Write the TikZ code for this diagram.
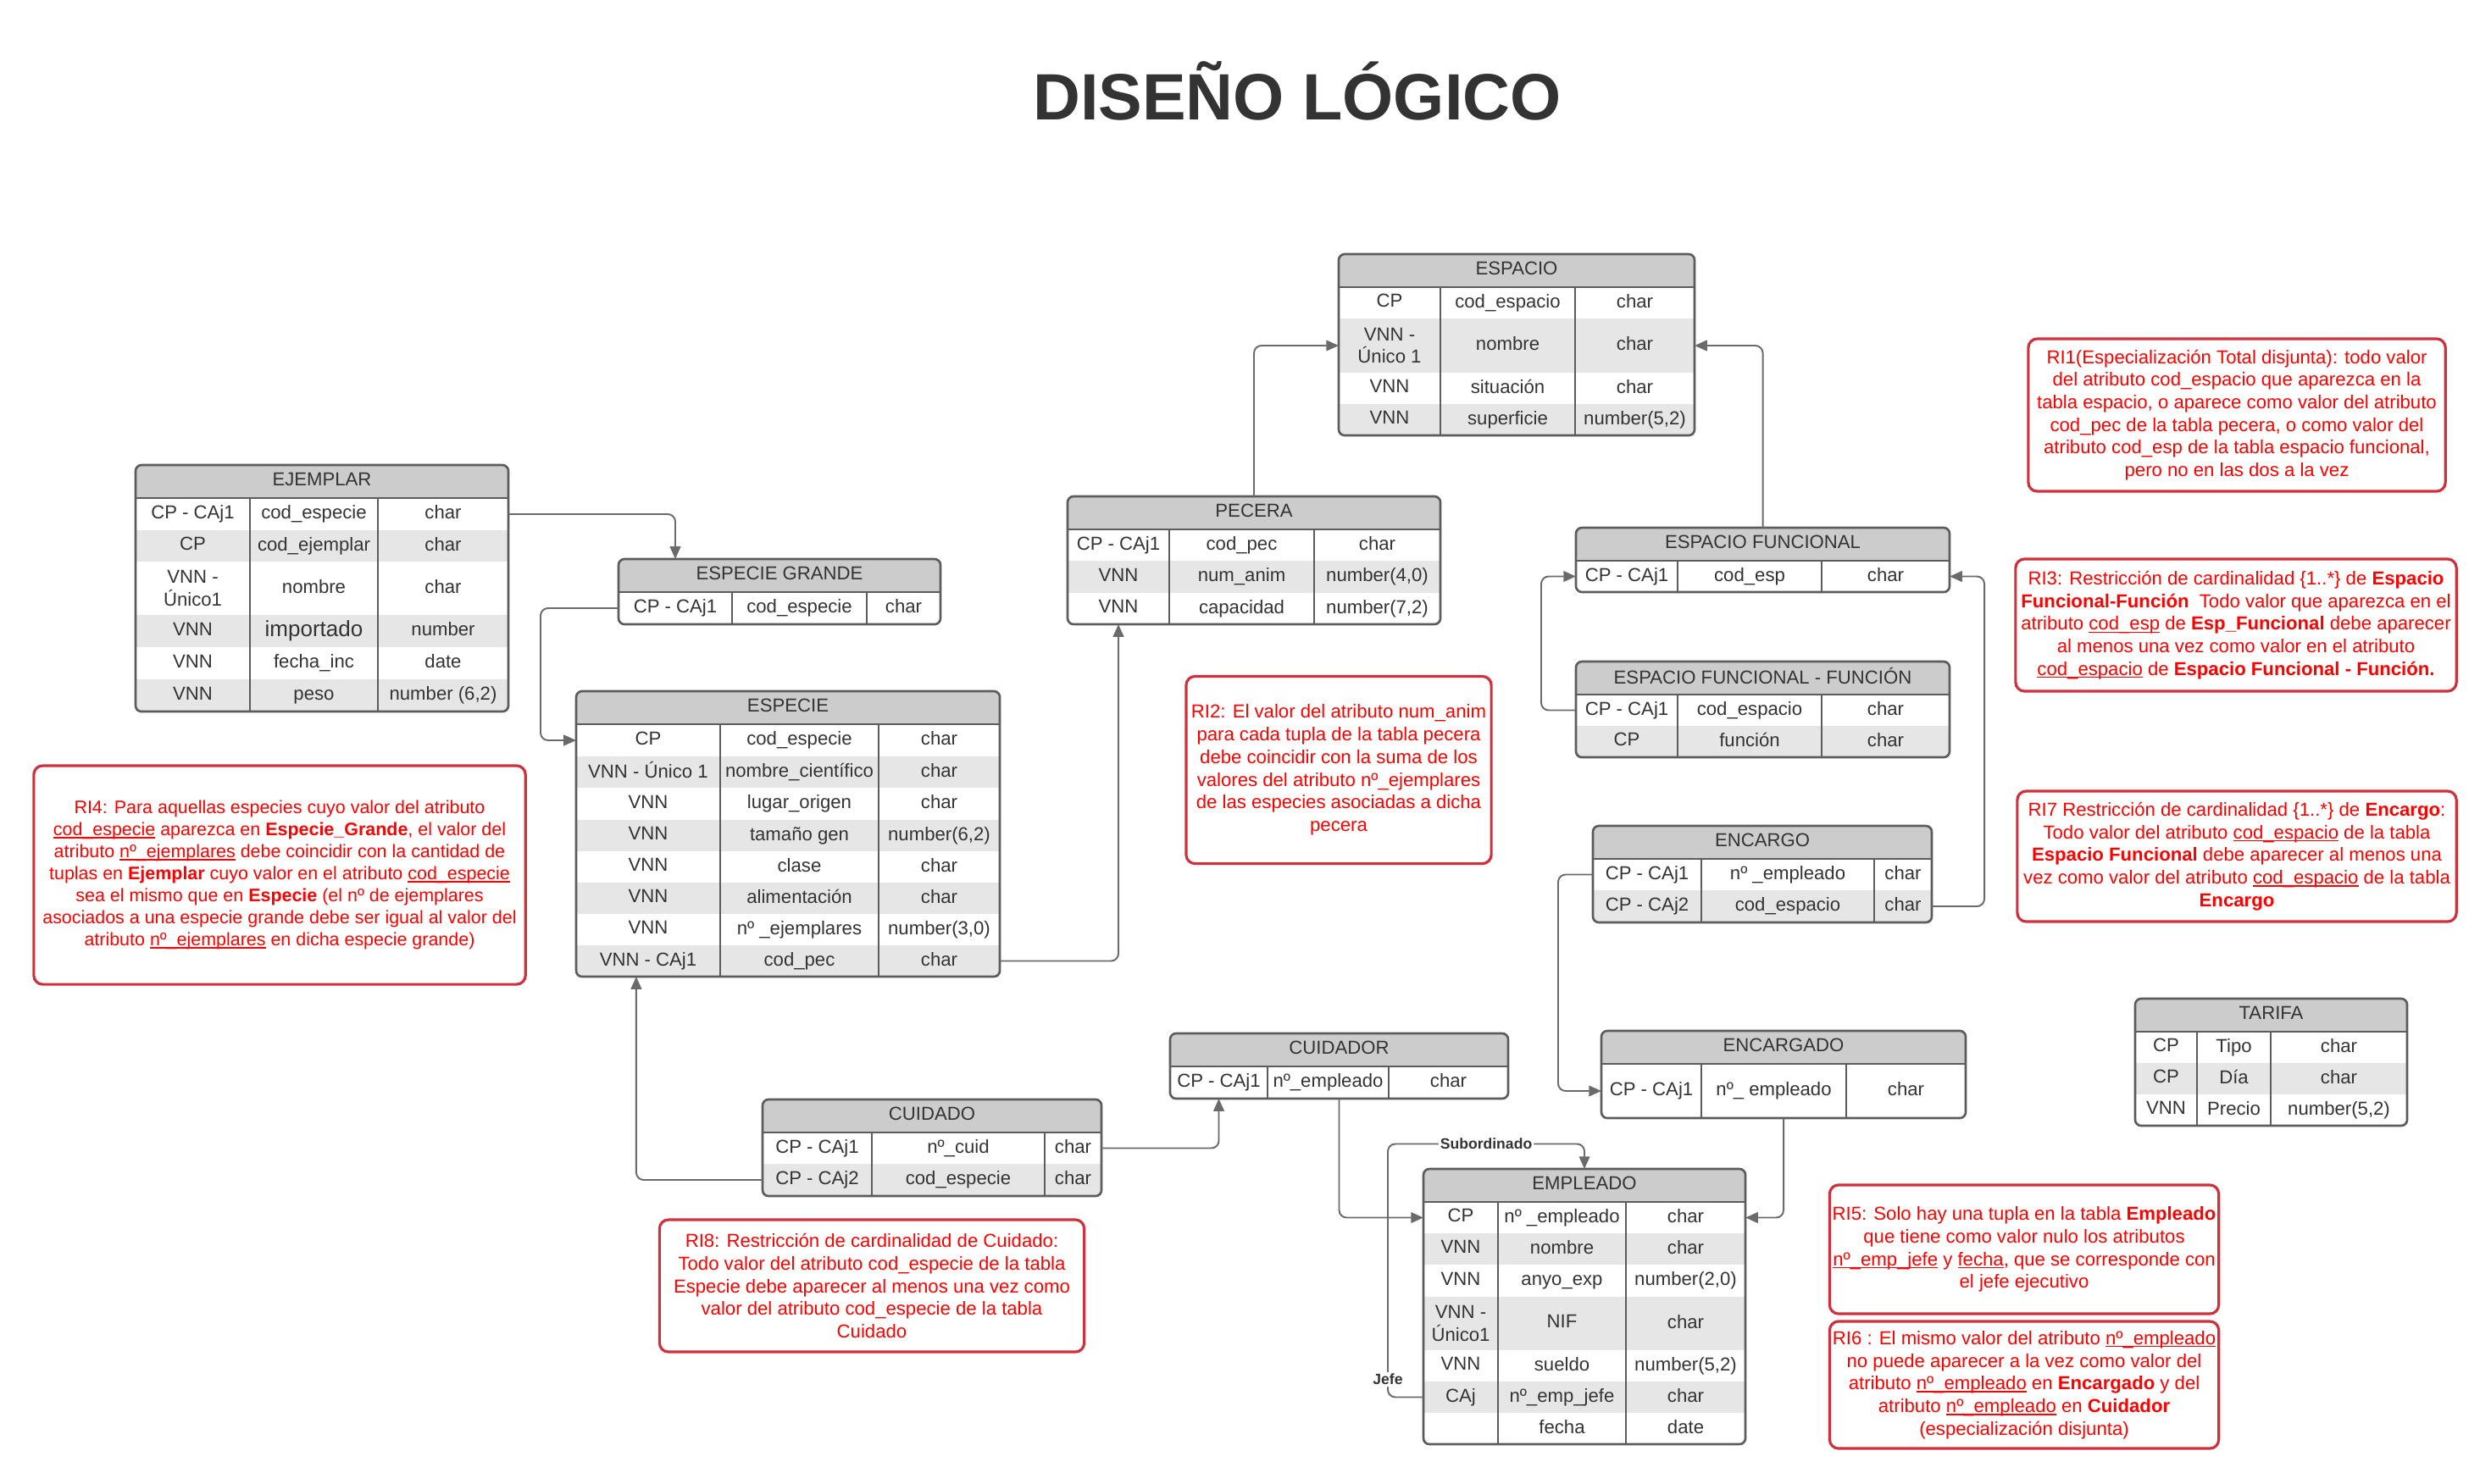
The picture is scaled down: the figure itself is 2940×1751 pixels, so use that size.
\documentclass[tikz,border=0pt]{standalone}
\usepackage{fontspec}
\setmainfont{Liberation Sans}
\usetikzlibrary{arrows.meta}

\definecolor{cabecera}{HTML}{CCCCCC}
\definecolor{grisfila}{HTML}{E6E6E6}
\definecolor{borde}{HTML}{5C5C5C}
\definecolor{texto}{HTML}{333333}
\definecolor{enlace}{HTML}{6A6A6A}
\definecolor{notaborde}{HTML}{D0303C}

% subrayado pegado a la linea base
\newcommand{\subrayado}[1]{\leavevmode\setbox0\hbox{#1}\rlap{\rule[-0.14em]{\wd0}{0.065em}}\box0\relax}

% tabla: nombre, titulo, x0, x1, x2, x3, arriba, abajo, filas
\newcommand{\tabla}[9]{%
  \pgfmathsetmacro{\ycab}{#7+39}
  \pgfmathsetmacro{\ancho}{(#6-#3)*0.01}
  \pgfmathsetmacro{\altot}{(#8-#7)*0.01}
  \fill[cabecera, rounded corners=2pt] (#3,#7) rectangle (#6,{\ycab+6});
  \node[tcab] (#1-t) at ({(#3+#6)/2},{(#7+\ycab)/2}) {\vphantom{Ag}#2};
  \foreach \yb/\cA/\cB/\cC/\sombra [count=\i, remember=\yb as \ya (initially \ycab)] in {#9} {
    \fill[\sombra] (#3,\ya) rectangle (#6,\yb);
    \pgfmathsetmacro{\alto}{(\yb-\ya)*0.01}
    \node[filabox, minimum width=\ancho cm, minimum height=\alto cm] (#1-\i) at ({(#3+#6)/2},{(\ya+\yb)/2}) {};
    \node[celda] (#1-\i-1) at ({(#3+#4)/2},{(\ya+\yb)/2}) {\vphantom{Ag}\cA};
    \node[celda] (#1-\i-2) at ({(#4+#5)/2},{(\ya+\yb)/2}) {\vphantom{Ag}\cB};
    \node[celda] (#1-\i-3) at ({(#5+#6)/2},{(\ya+\yb)/2}) {\vphantom{Ag}\cC};
  }
  \draw[linea] (#4,\ycab) -- (#4,#8) (#5,\ycab) -- (#5,#8) (#3,\ycab) -- (#6,\ycab);
  \node[marco, minimum width=\ancho cm, minimum height=\altot cm] (#1) at ({(#3+#6)/2},{(#7+#8)/2}) {};
}

\begin{document}
\begin{tikzpicture}[
  x=0.01cm, y=-0.01cm,
  tcab/.style={font=\fontsize{6.3}{7.6}\selectfont, text=texto, inner sep=0},
  celda/.style={font=\fontsize{6.3}{7.6}\selectfont, text=texto, align=center, inner sep=0},
  filabox/.style={inner sep=0, outer sep=0},
  marco/.style={draw=borde, line width=0.75pt, rounded corners=2pt, inner sep=0, outer sep=0},
  linea/.style={draw=borde, line width=0.75pt},
  fk/.style={draw=enlace, line width=0.55pt, rounded corners=2.5pt, -{Triangle[length=4.2pt, width=3.6pt]}},
  etiq/.style={font=\bfseries\fontsize{5}{6}\selectfont, text=texto, fill=white, inner sep=0.6pt},
  nota/.style={draw=notaborde, line width=0.9pt, rounded corners=3pt, text=red, align=center, inner sep=0, font=\fontsize{6.3}{7.6}\selectfont},
  titulo/.style={font=\bfseries\fontsize{22}{26}\selectfont, text=texto}
  ]

\fill[white] (0,0) rectangle (2940,1751);
\useasboundingbox (0,0) rectangle (2940,1751);

\node[titulo, anchor=base] (titulo) at (1531,141) {DISEÑO LÓGICO};

% tablas
\tabla{ejemplar}{EJEMPLAR}{160}{295}{446}{600}{549}{840}{
  626/CP - CAj1/cod\_especie/char/white,
  663/CP/cod\_ejemplar/char/grisfila,
  726/VNN -\\Único1/nombre/char/white,
  764/VNN/{\fontsize{7.4}{8}\selectfont importado}/number/grisfila,
  802/VNN/fecha\_inc/date/white,
  840/VNN/peso/{number (6,2)}/grisfila}

\tabla{egrande}{ESPECIE GRANDE}{730}{864}{1023}{1110}{660}{737}{
  737/CP - CAj1/cod\_especie/char/white}

\tabla{especie}{ESPECIE}{680}{850}{1037}{1180}{816}{1153}{
  893/CP/cod\_especie/char/white,
  930/VNN - Único 1/nombre\_científico/char/grisfila,
  968/VNN/lugar\_origen/char/white,
  1005/VNN/tamaño gen/{number(6,2)}/grisfila,
  1042/VNN/clase/char/white,
  1079/VNN/alimentación/char/grisfila,
  1116/VNN/nº \_ejemplares/{number(3,0)}/white,
  1153/VNN - CAj1/cod\_pec/char/grisfila}

\tabla{espacio}{ESPACIO}{1580}{1700}{1859}{2000}{300}{514}{
  376/CP/cod\_espacio/char/white,
  440/VNN -\\Único 1/nombre/char/grisfila,
  477/VNN/situación/char/white,
  514/VNN/superficie/{number(5,2)}/grisfila}

\tabla{pecera}{PECERA}{1260}{1380}{1551}{1700}{586}{737}{
  662/CP - CAj1/cod\_pec/char/white,
  700/VNN/num\_anim/{number(4,0)}/grisfila,
  737/VNN/capacidad/{number(7,2)}/white}

\tabla{efunc}{ESPACIO FUNCIONAL}{1860}{1980}{2150}{2301}{623}{699}{
  699/CP - CAj1/cod\_esp/char/white}

\tabla{efuncion}{ESPACIO FUNCIONAL - FUNCIÓN}{1860}{1980}{2150}{2301}{781}{894}{
  857/CP - CAj1/cod\_espacio/char/white,
  894/CP/función/char/grisfila}

\tabla{encargo}{ENCARGO}{1880}{2008}{2212}{2280}{975}{1089}{
  1051/CP - CAj1/nº \_empleado/char/white,
  1089/CP - CAj2/cod\_espacio/char/grisfila}

\tabla{encargado}{ENCARGADO}{1890}{2008}{2179}{2320}{1217}{1320}{
  1320/CP - CAj1/nº\_ empleado/char/white}

\tabla{cuidador}{CUIDADOR}{1381}{1496}{1639}{1780}{1220}{1297}{
  1297/CP - CAj1/nº\_empleado/char/white}

\tabla{cuidado}{CUIDADO}{900}{1029}{1233}{1300}{1298}{1412}{
  1374/CP - CAj1/nº\_cuid/char/white,
  1412/CP - CAj2/cod\_especie/char/grisfila}

\tabla{empleado}{EMPLEADO}{1680}{1768}{1919}{2060}{1380}{1705}{
  1456/CP/nº \_empleado/char/white,
  1493/VNN/nombre/char/grisfila,
  1531/VNN/anyo\_exp/{number(2,0)}/white,
  1594/VNN -\\Único1/NIF/char/grisfila,
  1631/VNN/sueldo/{number(5,2)}/white,
  1668/CAj/nº\_emp\_jefe/char/grisfila,
  1705//fecha/date/white}

\tabla{tarifa}{TARIFA}{2520}{2593}{2680}{2841}{1179}{1329}{
  1255/CP/Tipo/char/white,
  1292/CP/Día/char/grisfila,
  1329/VNN/Precio/{number(5,2)}/white}

% claves ajenas
\draw[fk] (ejemplar-1.east) -| (egrande.north -| egrande-1-1);
\draw[fk] (egrande-1.west) -- ++(-92,0) |- (especie-1.west);
\draw[fk] (especie-8.east) -| (pecera.south -| pecera-3-1);
\draw[fk] (pecera.north) |- (espacio-2.west);
\draw[fk] (efunc.north) |- (espacio-2.east);
\draw[fk] (efuncion-1.west) -- ++(-41,0) |- (efunc-1.west);
\draw[fk] (encargo-2.east) -- ++(62,0) |- (efunc-1.east);
\draw[fk] (encargo-1.west) -- ++(-41,0) |- (encargado-1.west);
\draw[fk] (cuidado-1.east) -| (cuidador.south -| cuidador-1-1);
\draw[fk] (cuidado-2.west) -| ([xshift=-1.79cm]especie.south);
\draw[fk] (cuidador.south) |- (empleado-1.west);
\draw[fk] (encargado.south) |- (empleado-1.east);
\draw[fk] (empleado-6.west) -- ++(-42,0) -- node[etiq, pos=0.07] {Jefe} ++(0,-299) -| node[etiq, pos=0.25] {Subordinado} (empleado.north);

% restricciones
\node[nota, minimum width=4.92cm, minimum height=1.8cm] (ri1) at (2640,490) {RI1(Especialización Total disjunta): todo valor\\del atributo cod\_espacio que aparezca en la\\tabla espacio, o aparece como valor del atributo\\cod\_pec de la tabla pecera, o como valor del\\atributo cod\_esp de la tabla espacio funcional,\\pero no en las dos a la vez};

\node[nota, minimum width=5.2cm, minimum height=1.56cm] (ri3) at (2639,738) {RI3: Restricción de cardinalidad \{1..*\} de \textbf{Espacio}\\\textbf{Funcional-Función}\ \ Todo valor que aparezca en el\\atributo \subrayado{cod\_esp} de \textbf{Esp\_Funcional} debe aparecer\\al menos una vez como valor en el atributo\\\subrayado{cod\_espacio} de \textbf{Espacio Funcional - Función.}};

\node[nota, minimum width=5.18cm, minimum height=1.54cm] (ri7) at (2640,1011) {RI7 Restricción de cardinalidad \{1..*\} de \textbf{Encargo}:\\Todo valor del atributo \subrayado{cod\_espacio} de la tabla\\\textbf{Espacio Funcional} debe aparecer al menos una\\vez como valor del atributo \subrayado{cod\_espacio} de la tabla\\\textbf{Encargo}};

\node[nota, minimum width=3.6cm, minimum height=2.21cm] (ri2) at (1580,909) {RI2: El valor del atributo num\_anim\\para cada tupla de la tabla pecera\\debe coincidir con la suma de los\\valores del atributo nº\_ejemplares\\de las especies asociadas a dicha\\pecera};

\node[nota, minimum width=5.8cm, minimum height=2.58cm, font=\fontsize{6.1}{7.4}\selectfont] (ri4) at (330,1033) {RI4: Para aquellas especies cuyo valor del atributo\\\subrayado{cod\_especie} aparezca en \textbf{Especie\_Grande}, el valor del\\atributo \subrayado{nº\_ejemplares} debe coincidir con la cantidad de\\tuplas en \textbf{Ejemplar} cuyo valor en el atributo \subrayado{cod\_especie}\\sea el mismo que en \textbf{Especie} (el nº de ejemplares\\asociados a una especie grande debe ser igual al valor del\\atributo \subrayado{nº\_ejemplares} en dicha especie grande)};

\node[nota, minimum width=5.01cm, minimum height=1.56cm] (ri8) at (1029,1518) {RI8: Restricción de cardinalidad de Cuidado:\\Todo valor del atributo cod\_especie de la tabla\\Especie debe aparecer al menos una vez como\\valor del atributo cod\_especie de la tabla\\Cuidado};

\node[nota, minimum width=4.59cm, minimum height=1.52cm] (ri5) at (2389,1475) {RI5: Solo hay una tupla en la tabla \textbf{Empleado}\\que tiene como valor nulo los atributos\\\subrayado{nº\_emp\_jefe} y \subrayado{fecha}, que se corresponde con\\el jefe ejecutivo};

\node[nota, minimum width=4.59cm, minimum height=1.5cm] (ri6) at (2389,1635) {RI6 : El mismo valor del atributo \subrayado{nº\_empleado}\\no puede aparecer a la vez como valor del\\atributo \subrayado{nº\_empleado} en \textbf{Encargado} y del\\atributo \subrayado{nº\_empleado} en \textbf{Cuidador}\\(especialización disjunta)};

\end{tikzpicture}
\end{document}
